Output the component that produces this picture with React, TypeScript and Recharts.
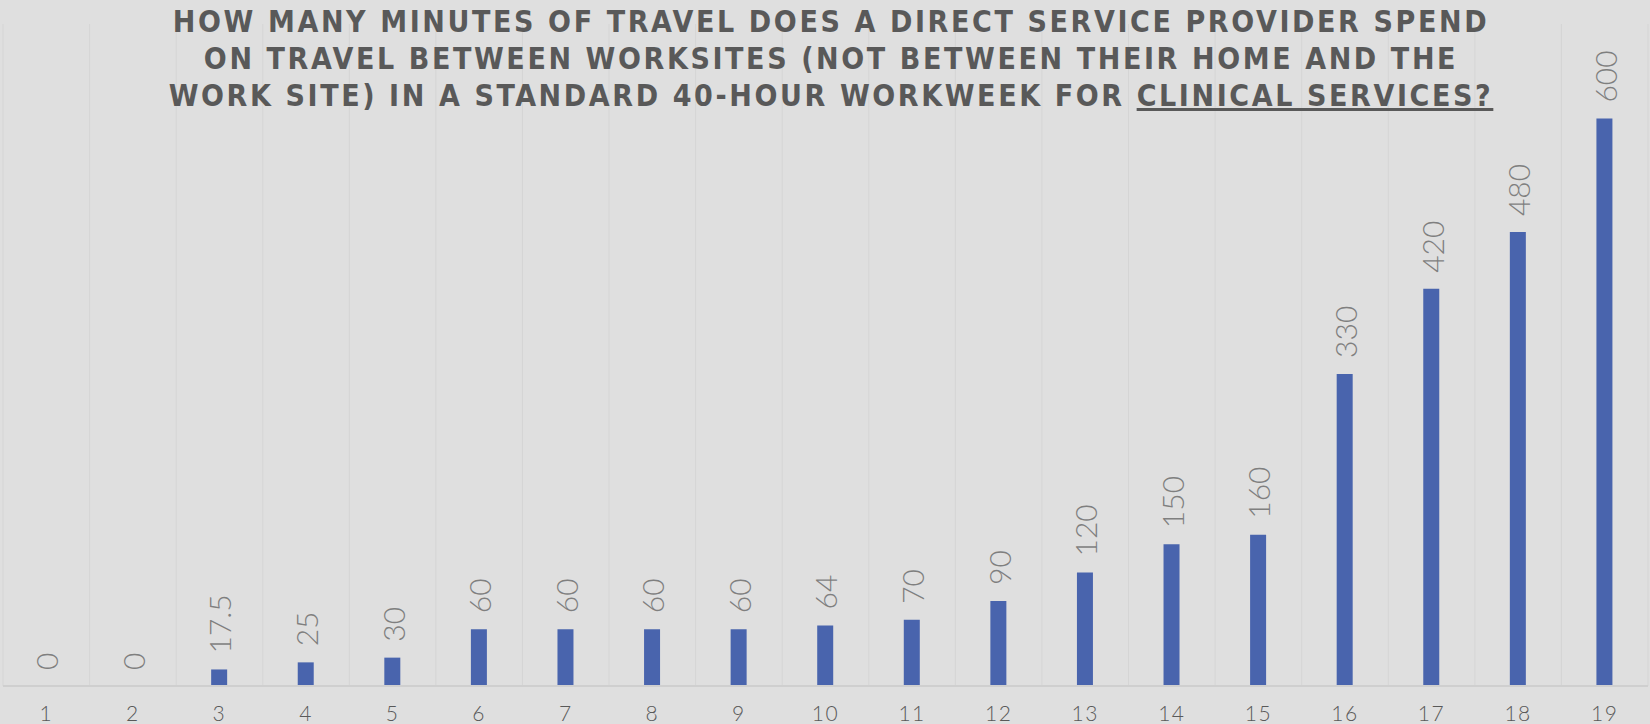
import { ComposedChart, Bar, Line, XAxis, YAxis, CartesianGrid, LabelList } from 'recharts'

const categories = ['1', '2', '3', '4', '5', '6', '7', '8', '9', '10', '11', '12', '13', '14', '15', '16', '17', '18', '19']
const minutes = [0, 0, 17.5, 25, 30, 60, 60, 60, 60, 64, 70, 90, 120, 150, 160, 330, 420, 480, 600]

const data = categories.map((name, i) => ({ name, minutes: minutes[i] }))

const W = 1650
const H = 724
const labelFont = "Lato, 'Open Sans', sans-serif"

// rotated value label above each point (line is invisible, only carries labels so zeros show too)
function RotatedLabel(props: any) {
  const { x, y, value } = props
  const ty = y - 16
  return (
    <text
      x={x}
      y={ty}
      transform={`rotate(-90 ${x} ${ty})`}
      textAnchor="start"
      dominantBaseline="central"
      fill="#7f7f7f"
      fontSize={30}
      fontWeight={300}
      fontFamily={labelFont}
    >
      {value}
    </text>
  )
}

export default function App() {
  return (
    <div style={{ position: 'absolute', left: 0, top: 0, width: W, height: H, background: '#dfdfdf', overflow: 'hidden' }}>
      <ComposedChart width={W} height={H} data={data} margin={{ top: 24, right: 2, left: 3, bottom: 0 }} barCategoryGap={0}>
        <CartesianGrid
          horizontal={false}
          stroke="#d5d5d5"
          verticalCoordinatesGenerator={({ offset }: any) =>
            categories.map((_, i) => offset.left + (i * offset.width) / categories.length).concat([offset.left + offset.width])
          }
        />
        <XAxis
          dataKey="name"
          height={38}
          axisLine={{ stroke: '#cfcfcf', strokeWidth: 2 }}
          tickLine={false}
          interval={0}
          tick={{ fill: '#595959', fontSize: 21, fontWeight: 300, fontFamily: labelFont, letterSpacing: 1.5 }}
          dy={12}
        />
        <YAxis hide domain={[0, 700]} />
        <Bar dataKey="minutes" fill="#4964ad" barSize={16} isAnimationActive={false} />
        <Line dataKey="minutes" stroke="none" dot={false} activeDot={false} isAnimationActive={false}>
          <LabelList dataKey="minutes" content={RotatedLabel} />
        </Line>
      </ComposedChart>
      <div
        style={{
          position: 'absolute',
          left: 0,
          top: 3,
          width: W,
          paddingLeft: 12,
          boxSizing: 'border-box',
          textAlign: 'center',
          fontFamily: "'DejaVu Sans Condensed', 'DejaVu Sans', sans-serif",
          fontWeight: 'bold',
          fontSize: 30,
          lineHeight: '37px',
          letterSpacing: 2.6,
          color: '#595959',
        }}
      >
        HOW MANY MINUTES OF TRAVEL DOES A DIRECT SERVICE PROVIDER SPEND
        <br />
        ON TRAVEL BETWEEN WORKSITES (NOT BETWEEN THEIR HOME AND THE
        <br />
        WORK SITE) IN A STANDARD 40-HOUR WORKWEEK FOR <span style={{ textDecoration: 'underline' }}>CLINICAL SERVICES?</span>
      </div>
    </div>
  )
}
